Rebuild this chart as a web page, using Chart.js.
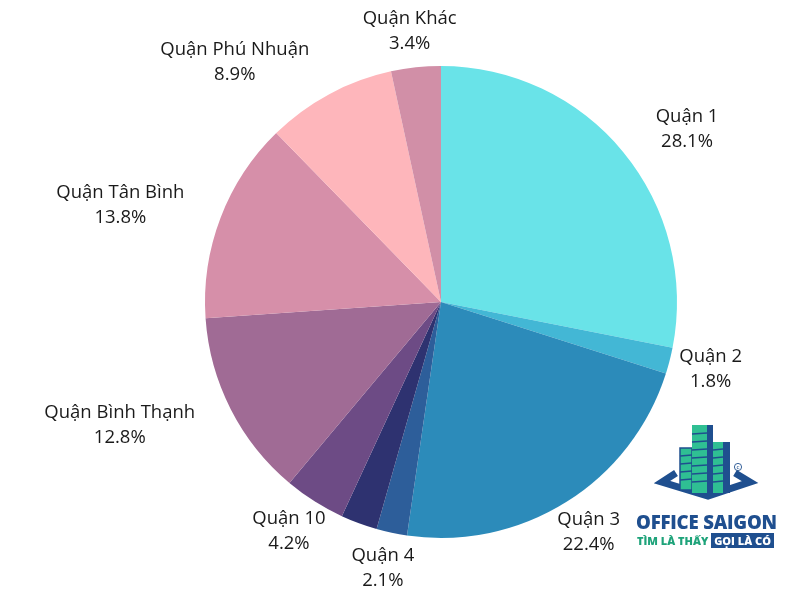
<!DOCTYPE html>
<html>
<head>
<meta charset="utf-8">
<script src="https://cdn.jsdelivr.net/npm/chart.js@4.4.0/dist/chart.umd.min.js"></script>
<style>
  html, body { margin: 0; padding: 0; background: #fff; }
  #wrap { position: relative; width: 800px; height: 600px; }
  #logo { position: absolute; left: 630px; top: 420px; width: 150px; height: 135px; font-family: "Open Sans", sans-serif; }
  #logo svg { position: absolute; left: 0; top: 0; }
  #logo .name { position: absolute; left: 6px; top: 89px; font-size: 19px; font-weight: 800; color: #1f4f8f; letter-spacing: -0.2px; white-space: nowrap; font-family: "Liberation Sans Narrow", "Open Sans", sans-serif; transform: scaleX(0.98); transform-origin: left; }
  #logo .tag { position: absolute; left: 7px; top: 113px; font-size: 11px; font-weight: 800; white-space: nowrap; }
  #logo .tag .a { color: #1ea37a; }
  #logo .tag .b { color: #fff; background: #1f4f8f; padding: 0 3px; }
</style>
</head>
<body>
<div id="wrap">
  <canvas id="pie" width="800" height="600"></canvas>
  <div id="logo">
    <svg width="150" height="90" viewBox="0 0 150 90">
      <polyline points="46,53 32,62 78,76 120,62 105,53" fill="none" stroke="#1f4f8f" stroke-width="7" stroke-linejoin="miter"/>
      <rect x="50" y="28" width="12" height="42" fill="#2fbf93" stroke="#1f4f8f" stroke-width="1.5"/>
      <rect x="62" y="5" width="15" height="68" fill="#2fbf93"/>
      <rect x="77" y="5" width="6" height="68" fill="#1f4f8f"/>
      <rect x="83" y="22" width="10" height="51" fill="#2fbf93"/>
      <rect x="93" y="22" width="7" height="51" fill="#1f4f8f"/>
      <g stroke="#1f4f8f" stroke-width="1.3">
        <line x1="50" y1="36" x2="62" y2="35"/><line x1="50" y1="44" x2="62" y2="43"/>
        <line x1="50" y1="52" x2="62" y2="51"/><line x1="50" y1="60" x2="62" y2="59"/>
        <line x1="62" y1="14" x2="77" y2="13"/><line x1="62" y1="22" x2="77" y2="21"/>
        <line x1="62" y1="30" x2="77" y2="29"/><line x1="62" y1="38" x2="77" y2="37"/>
        <line x1="62" y1="46" x2="77" y2="45"/><line x1="62" y1="54" x2="77" y2="53"/>
        <line x1="62" y1="62" x2="77" y2="61"/>
        <line x1="83" y1="30" x2="93" y2="29"/><line x1="83" y1="38" x2="93" y2="37"/>
        <line x1="83" y1="46" x2="93" y2="45"/><line x1="83" y1="54" x2="93" y2="53"/>
        <line x1="83" y1="62" x2="93" y2="61"/>
      </g>
      <circle cx="108" cy="47" r="3.6" fill="none" stroke="#1f4f8f" stroke-width="0.9"/>
      <text x="108" y="49.2" font-size="5.5" text-anchor="middle" fill="#1f4f8f" font-family="DejaVu Sans">c</text>
    </svg>
    <div class="name">OFFICE SAIGON</div>
    <div class="tag"><span class="a">TÌM LÀ THẤY </span><span class="b">GỌI LÀ CÓ</span></div>
  </div>
</div>
<script>
const districts = ['Quận 1', 'Quận 2', 'Quận 3', 'Quận 4', '', 'Quận 10', 'Quận Bình Thạnh', 'Quận Tân Bình', 'Quận Phú Nhuận', 'Quận Khác'];
const shares = [28.1, 1.8, 22.4, 2.1, 2.5, 4.2, 12.8, 13.8, 8.9, 3.4];
const colors = ['#69e3e8', '#43b7d5', '#2c8bba', '#2d5e9a', '#2e3270', '#6d4b85', '#a06b95', '#d68fa9', '#feb6bb', '#d18fa7'];

// extra horizontal push for a few crowded labels (px)
const labelNudgeX = [31, 0, 0, 0, 0, 0, -34, -30, -54, 0];

const outsideLabels = {
  id: 'outsideLabels',
  afterDatasetsDraw(chart) {
    const c = chart.ctx;
    const meta = chart.getDatasetMeta(0);
    c.save();
    c.font = '18.5px "Open Sans", sans-serif';
    c.fillStyle = '#1a1a1a';
    c.textAlign = 'center';
    c.textBaseline = 'middle';
    const lh = 25;
    meta.data.forEach((arc, i) => {
      if (!districts[i]) return;
      const p = arc.getProps(['x', 'y', 'startAngle', 'endAngle', 'outerRadius'], true);
      const mid = (p.startAngle + p.endAngle) / 2;
      const ux = Math.cos(mid), uy = Math.sin(mid);
      const l1 = districts[i], l2 = shares[i].toFixed(1) + '%';
      const w = Math.max(c.measureText(l1).width, c.measureText(l2).width);
      const h = lh * 2;
      const r = p.outerRadius + 11;
      const cx = p.x + ux * r + ux * w / 2 + labelNudgeX[i];
      const cy = p.y + uy * r + uy * h / 2;
      c.fillText(l1, cx, cy - lh / 2);
      c.fillText(l2, cx, cy + lh / 2);
    });
    c.restore();
  }
};

new Chart(document.getElementById('pie'), {
  type: 'pie',
  data: {
    labels: districts,
    datasets: [{
      data: shares,
      backgroundColor: colors,
      borderWidth: 0,
    }],
  },
  options: {
    responsive: false,
    animation: false,
    layout: { padding: { left: 205, right: 123, top: 66, bottom: 62 } },
    plugins: {
      legend: { display: false },
      tooltip: { enabled: false },
    },
  },
  plugins: [outsideLabels],
});
</script>
</body>
</html>
